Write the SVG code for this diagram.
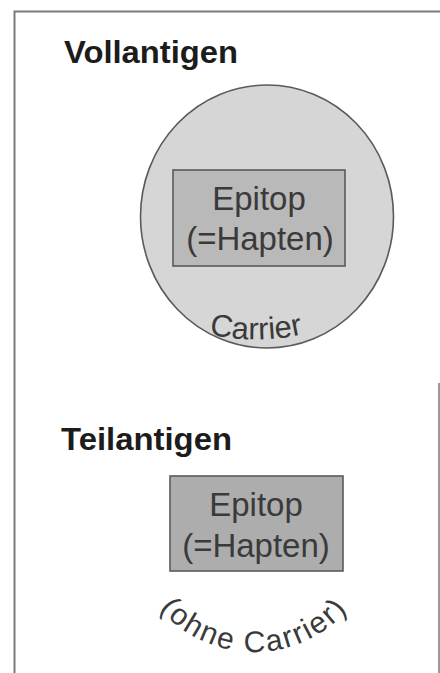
<svg xmlns="http://www.w3.org/2000/svg" width="440" height="673" viewBox="0 0 440 673">
<style>
.frame{fill:none;stroke:#7a7a7a;stroke-width:2}
.head{font-family:"Liberation Sans",Arial,sans-serif;font-weight:bold;font-size:32px;fill:#1c1c1c}
.lbl{font-family:"Liberation Sans",Arial,sans-serif;font-size:33px;fill:#3a3a3a;text-anchor:middle}
.arc{font-family:"Liberation Sans",Arial,sans-serif;font-size:31px;fill:#3a3a3a}
.carrier{fill:#d6d6d6;stroke:#5a5a5a;stroke-width:1.6}
.epi{stroke:#5a5a5a;stroke-width:1.6}
</style>
<defs>
<path id="arcCarrier" d="M186,328 A220,220 0 0 0 326,328"/>
<path id="arcOhne" d="M129,527 A125,125 0 0 0 379,527"/>
</defs>
<rect width="440" height="673" fill="#ffffff"/>
<path class="frame" d="M14.5,673 V11.5 H440"/>
<path class="frame" d="M439,383 V673" style="stroke:#9a9a9a"/>
<g id="vollantigen">
<text class="head" x="64" y="63" textLength="174" lengthAdjust="spacingAndGlyphs">Vollantigen</text>
<ellipse class="carrier" cx="267" cy="216.5" rx="126.5" ry="131.5"/>
<g id="epitop1">
<rect class="epi" x="173" y="170" width="172" height="96" fill="#b9b9b9"/>
<text class="lbl" x="259" y="210">Epitop</text>
<text class="lbl" x="260" y="250">(=Hapten)</text>
</g>
<text class="arc"><textPath href="#arcCarrier" startOffset="50%" text-anchor="middle">Carrier</textPath></text>
</g>
<g id="teilantigen">
<text class="head" x="61" y="450" textLength="171" lengthAdjust="spacingAndGlyphs">Teilantigen</text>
<g id="epitop2">
<rect class="epi" x="170" y="476" width="173" height="95" fill="#adadad"/>
<text class="lbl" x="256" y="516">Epitop</text>
<text class="lbl" x="256" y="557">(=Hapten)</text>
</g>
<text class="arc" style="font-size:30px;letter-spacing:2px"><textPath href="#arcOhne" startOffset="50%" text-anchor="middle">(ohne Carrier)</textPath></text>
</g>
<g id="connectors"/>
</svg>
